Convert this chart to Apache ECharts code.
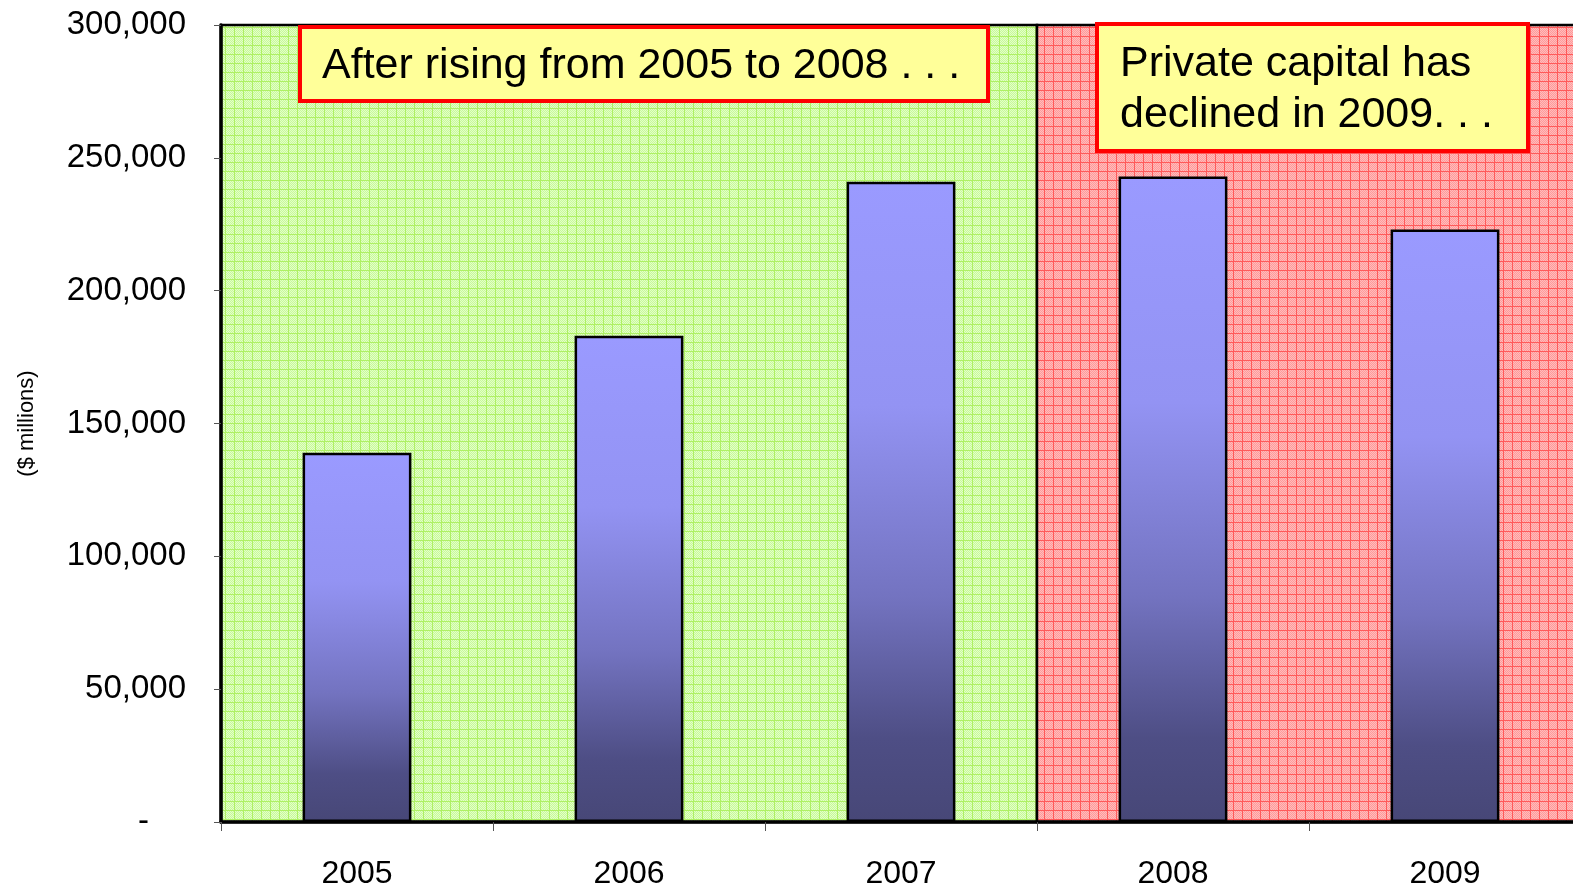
<!DOCTYPE html>
<html>
<head>
<meta charset="utf-8">
<script src="https://cdn.jsdelivr.net/npm/echarts@6/dist/echarts.min.js"></script>
<style>
  html, body { margin: 0; padding: 0; background: #ffffff; }
  #chart { width: 1573px; height: 888px; }
</style>
</head>
<body>
<div id="chart"></div>
<script>
// Private capital by year ($ millions)
const years = ['2005', '2006', '2007', '2008', '2009'];
const privateCapital = [139000, 183000, 241000, 243000, 223000];
const yTicks = [0, 50000, 100000, 150000, 200000, 250000, 300000];
// Shaded periods, in category slots (0..5)
const risingPeriod = [0, 3];
const decliningPeriod = [3, 5];
const noteRising = 'After rising from 2005 to 2008 . . .';
const noteDecline = ['Private capital has', 'declined in 2009. . .'];

const FONT = '"Liberation Sans", Arial, Helvetica, sans-serif';

// Small tiled hatch: light base, speckle, grid lines
function hatch(base, speck, line) {
  const c = document.createElement('canvas');
  c.width = 9; c.height = 9;
  const g = c.getContext('2d');
  g.fillStyle = base; g.fillRect(0, 0, 9, 9);
  g.fillStyle = speck;
  for (let y = 1; y < 9; y++) {
    for (let x = 1; x < 9; x++) {
      if ((x + y) % 2 === 0) g.fillRect(x, y, 1, 1);
    }
  }
  g.fillStyle = line;
  g.fillRect(0, 0, 9, 1);
  g.fillRect(0, 0, 1, 9);
  return { image: c, repeat: 'repeat' };
}

const greenFill = hatch('#c8f99a', '#e2ffc8', '#aef064');
const redFill = hatch('#ff9a9a', '#ffbcbc', '#ff5a5a');

const chart = echarts.init(document.getElementById('chart'), null, { renderer: 'canvas' });

const boxZ = { z: 200, zlevel: 1 };

const option = {
  animation: false,
  backgroundColor: '#ffffff',
  grid: { left: 221, top: 25, width: 1360, height: 797, containLabel: false, outerBoundsMode: 'none' },
  xAxis: [
    {
      type: 'category',
      data: years,
      boundaryGap: true,
      axisLine: { show: true, lineStyle: { color: '#000000', width: 3.5 } },
      axisTick: { show: true, inside: false, length: 9, lineStyle: { color: '#555555', width: 1 } },
      axisLabel: { color: '#000000', fontSize: 32, fontFamily: FONT, margin: 36 },
      splitLine: { show: false },
      z: 10
    },
    {
      type: 'value',
      min: 0,
      max: 5,
      show: false
    }
  ],
  yAxis: {
    type: 'value',
    min: 0,
    max: 300000,
    interval: 50000,
    name: '($ millions)',
    nameLocation: 'middle',
    nameGap: 183,
    nameRotate: 90,
    nameTextStyle: { color: '#000000', fontSize: 22, fontFamily: FONT },
    axisLine: { show: true, lineStyle: { color: '#000000', width: 3.5 } },
    axisTick: { show: true, inside: false, length: 7, lineStyle: { color: '#555555', width: 1 } },
    splitLine: { show: false },
    axisLabel: {
      color: '#000000',
      fontSize: 33,
      fontFamily: FONT,
      margin: 35,
      formatter: function (v) {
        if (v === 0) return '{z|-}';
        return v.toLocaleString('en-US');
      },
      rich: {
        z: { fontSize: 33, fontFamily: FONT, color: '#000000', padding: [0, 37, 0, 0] }
      }
    },
    z: 10
  },
  series: [
    {
      // Background periods
      type: 'line',
      xAxisIndex: 1,
      data: [],
      silent: true,
      markArea: {
        silent: true,
        data: [
          [
            { xAxis: risingPeriod[0], yAxis: 0, itemStyle: { color: greenFill, borderColor: '#000000', borderWidth: 2.5 } },
            { xAxis: risingPeriod[1], yAxis: 300000 }
          ],
          [
            { xAxis: decliningPeriod[0], yAxis: 0, itemStyle: { color: redFill, borderColor: '#000000', borderWidth: 2.5 } },
            { xAxis: decliningPeriod[1], yAxis: 300000 }
          ]
        ]
      },
      z: 1
    },
    {
      name: 'Private capital',
      type: 'bar',
      data: privateCapital,
      barWidth: '40%',
      itemStyle: {
        borderColor: '#000000',
        borderWidth: 2.5,
        color: {
          type: 'linear', x: 0, y: 0, x2: 0, y2: 1,
          colorStops: [
            { offset: 0, color: '#9a9aff' },
            { offset: 0.35, color: '#9393f3' },
            { offset: 0.65, color: '#7373c0' },
            { offset: 0.87, color: '#4e4e85' },
            { offset: 1, color: '#474777' }
          ]
        }
      },
      z: 5
    }
  ],
  graphic: [
    Object.assign({
      type: 'rect',
      shape: { x: 300, y: 27, width: 688, height: 74 },
      style: { fill: '#ffff99', stroke: '#ff0000', lineWidth: 4 }
    }, boxZ),
    Object.assign({
      type: 'text',
      x: 322, y: 66,
      style: { text: noteRising, fill: '#000000', font: '43px ' + FONT, verticalAlign: 'middle', textAlign: 'left' }
    }, boxZ),
    Object.assign({
      type: 'rect',
      shape: { x: 1097, y: 24, width: 431, height: 127 },
      style: { fill: '#ffff99', stroke: '#ff0000', lineWidth: 4 }
    }, boxZ),
    Object.assign({
      type: 'text',
      x: 1120, y: 64,
      style: { text: noteDecline[0], fill: '#000000', font: '43px ' + FONT, verticalAlign: 'middle', textAlign: 'left' }
    }, boxZ),
    Object.assign({
      type: 'text',
      x: 1120, y: 115,
      style: { text: noteDecline[1], fill: '#000000', font: '43px ' + FONT, verticalAlign: 'middle', textAlign: 'left' }
    }, boxZ)
  ]
};

chart.setOption(option);
</script>
</body>
</html>
